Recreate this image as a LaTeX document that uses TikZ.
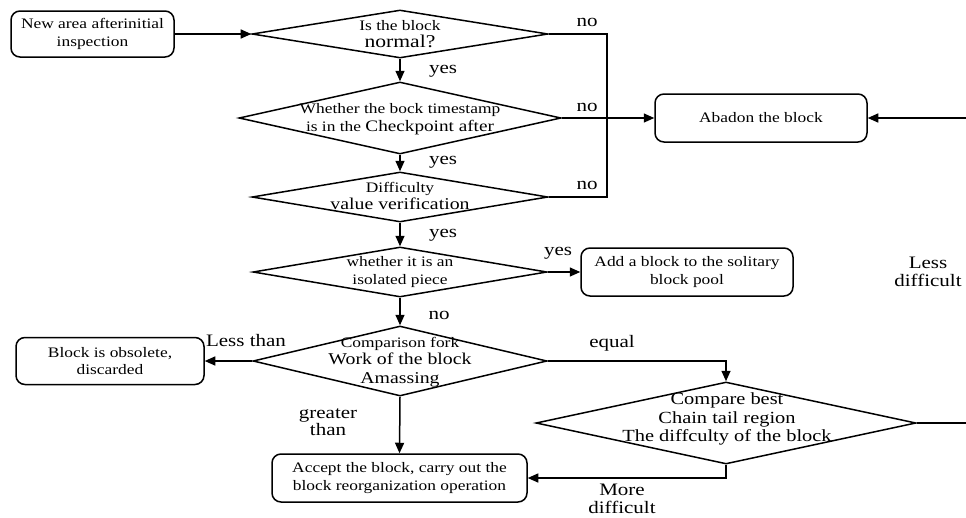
\documentclass[tikz,border=0pt]{standalone}
\usepackage{fontspec}
\setmainfont{Liberation Serif}[FakeStretch=1.2]
\usetikzlibrary{shapes.geometric,arrows.meta}
\newcommand{\fsm}{\fontsize{14.5}{17.5}\selectfont}
\newcommand{\flg}[1]{\fontsize{#1}{#1}\selectfont}
\begin{document}
\begin{tikzpicture}[x=1pt,y=-1pt,
  line width=1.5pt,
  box/.style={draw, rounded corners=9pt, line width=1.5pt, inner sep=0pt, align=center, font=\fsm},
  dia/.style={draw, diamond, inner sep=0pt, line width=1.5pt},
  dtext/.style={inner sep=0pt, align=center, font=\fsm},
  arr/.style={-{Triangle[length=10.5pt,width=9pt]}},
  lbl/.style={inner sep=0pt, font=\flg{17.5}, align=center}]
\useasboundingbox (0,0) rectangle (966,517);

% boxes
\node[box, minimum width=163pt, minimum height=46pt] (start) at (92.5,34) {New area afterinitial\\inspection};
\node[box, minimum width=212pt, minimum height=48pt] (abandon) at (761,118) {Abadon the block};
\node[box, minimum width=212pt, minimum height=48pt] (add) at (687,272) {Add a block to the solitary\\block pool};
\node[box, minimum width=188pt, minimum height=47pt] (obs) at (110,361) {Block is obsolete,\\discarded};
\node[box, minimum width=255pt, minimum height=48pt] (acc) at (399.5,478) {Accept the block, carry out the\\block reorganization operation};

% diamonds
\node[dia, minimum width=296pt, minimum height=48pt] (d1) at (400,34) {};
\node[dia, minimum width=322pt, minimum height=72pt] (d2) at (400,118) {};
\node[dia, minimum width=296pt, minimum height=50pt] (d3) at (400,197) {};
\node[dia, minimum width=294pt, minimum height=50pt] (d4) at (400,272) {};
\node[dia, minimum width=294pt, minimum height=70pt] (d5) at (400,361) {};
\node[dia, minimum width=380pt, minimum height=82pt] (d6) at (726,423) {};

% diamond texts
\node[dtext] (t1) at (400,34) {Is the block\\[-1pt]{\flg{18}normal?}};
\node[dtext] (t2) at (400,119) {Whether the bock timestamp\\is in the {\flg{16}Checkpoint after}};
\node[dtext] (t3) at (400,196) {Difficulty\\{\flg{16.5}value verification}};
\node[dtext] (t4) at (400,272) {whether it is an\\isolated piece};
\node[dtext] (t5) at (400,362) {Comparison fork\\{\flg{16.5}Work of the block}\\[1pt]{\flg{16.5}Amassing}};
\node[dtext, font=\flg{17}] (t6) at (727,419) {Compare best\\[1.5pt]Chain tail region\\[1pt]The diffculty of the block};

% junction coordinates
\coordinate (j1) at (607,34);
\coordinate (j3) at (607,197);
\coordinate (eR) at (966,118);
\coordinate (eq) at (726,361);
\coordinate (e6) at (966,423);
\coordinate (b6) at (726,478);

% connectors
\draw[arr] (start) -- (d1);
\draw[arr] (d1) -- (d2);
\draw[arr] (d2) -- (d3);
\draw[arr] (d3) -- (d4);
\draw[arr] (d4) -- (d5);
\draw (d1.east) -- (j1) -- (j3) -- (d3.east);
\draw[arr] (d2.east) -- (abandon.west);
\draw[arr] (eR) -- (abandon.east);
\draw[arr] (d4.east) -- (add.west);
\draw[arr] (d5.west) -- (obs.east);
\draw[arr] (d5.east) -- (eq) -- (d6.north);
\draw[arr] (d5.south) -- (acc.north);
\draw (d6.east) -- (e6);
\draw[arr] (d6.south) -- (b6) -- (acc.east);

% labels
\node[lbl] (ly1) at (443,71) {yes};
\node[lbl] (ly2) at (443,162) {yes};
\node[lbl] (ly3) at (443,235) {yes};
\node[lbl] (ln4) at (439,315) {no};
\node[lbl] (ln1) at (587,22) {no};
\node[lbl] (ln2) at (587,107) {no};
\node[lbl] (ln3) at (587,185) {no};
\node[lbl] (ly4) at (558,253) {yes};
\node[lbl] (lless) at (928,272) {Less\\difficult};
\node[lbl] (llt) at (246,341) {Less than};
\node[lbl] (leq) at (612,343) {equal};
\node[lbl] (lgt) at (328,422) {greater\\than};
\node[lbl] (lmd) at (622,499) {More\\difficult};
\end{tikzpicture}
\end{document}
